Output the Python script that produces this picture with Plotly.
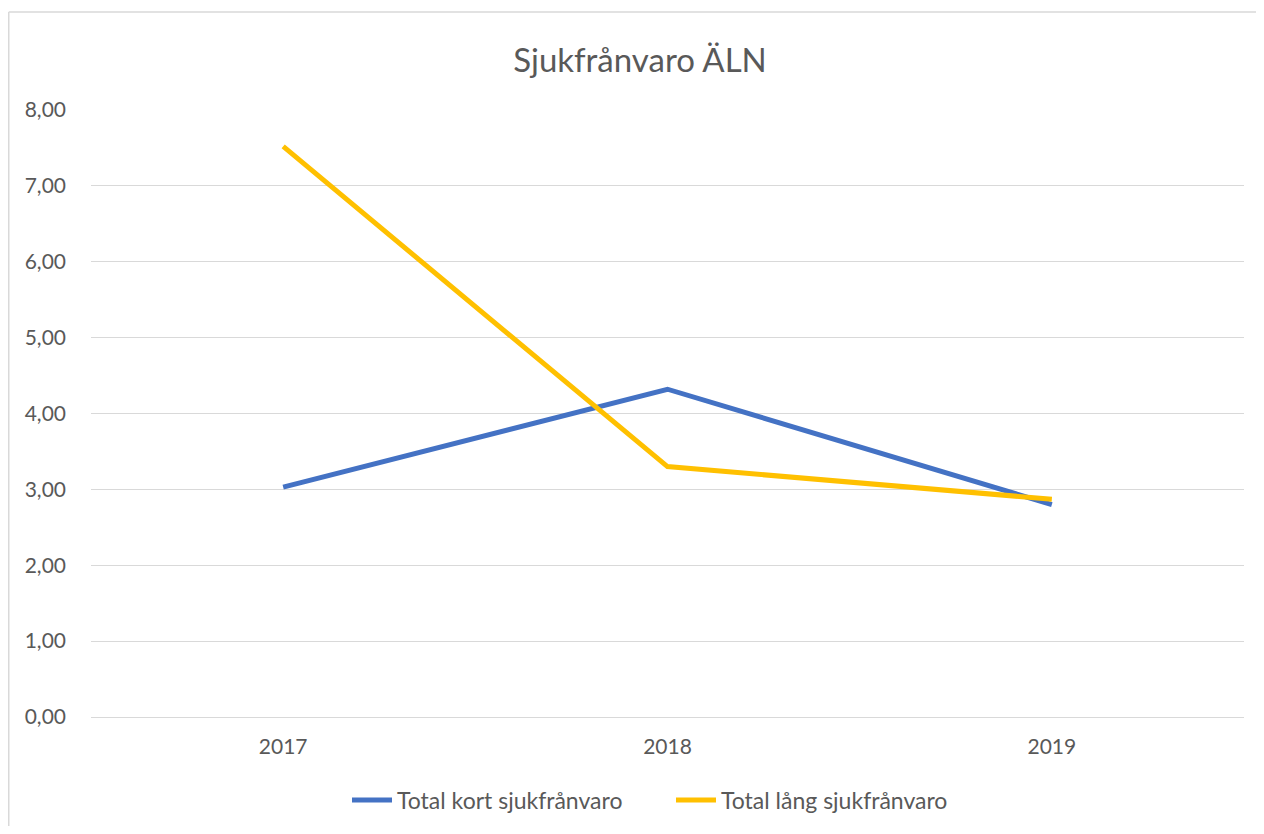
import plotly.graph_objects as go

years = ["2017", "2018", "2019"]
kort = [3.03, 4.32, 2.80]
lang = [7.52, 3.30, 2.87]
series_names = ["Total kort sjukfrånvaro", "Total lång sjukfrånvaro"]
title_text = "Sjukfrånvaro ÄLN"

# page has an 8px body margin; figure sized to fit inside the window
W, H = 1248, 818
L, R, T, B = 83, 12, 102, 109
pw = W - L - R
ph = H - T - B
OFF = 8  # body margin offset

fig = go.Figure()
fig.add_trace(go.Scatter(x=years, y=kort, mode="lines", name=series_names[0],
                         line=dict(color="#4472C4", width=5)))
fig.add_trace(go.Scatter(x=years, y=lang, mode="lines", name=series_names[1],
                         line=dict(color="#FFC000", width=5)))

font_family = "Lato, 'Open Sans', sans-serif"
title_cx, title_cy = 640 - OFF, 60 - OFF
leg_lx, leg_cy = 347 - OFF, 800 - OFF
fig.update_layout(
    width=W, height=H,
    margin=dict(l=L, r=R, t=T, b=B, autoexpand=False),
    paper_bgcolor="white", plot_bgcolor="white",
    separators=", ",
    font=dict(family=font_family, color="#595959", size=21),
    title=dict(text=title_text, x=(title_cx - L) / pw, xref="paper", xanchor="center",
               y=1 - title_cy / H, yanchor="middle",
               font=dict(size=33, color="#595959", family=font_family)),
    showlegend=True,
    legend=dict(orientation="h", x=(leg_lx - L) / pw, xanchor="left",
                y=-(leg_cy - (H - B)) / ph, yanchor="middle",
                font=dict(size=23, color="#595959"), itemwidth=40,
                entrywidth=269, entrywidthmode="pixels"),
    hovermode=False,
)
fig.update_xaxes(type="category", range=[-0.5, 2.5], showgrid=False,
                 showline=True, linecolor="#d9d9d9", linewidth=1,
                 ticks="", ticklabelstandoff=11,
                 tickfont=dict(size=21, color="#595959"))
fig.update_yaxes(range=[0, 8], dtick=1, tickformat=".2f", showgrid=True,
                 gridcolor="#d9d9d9", gridwidth=1, zeroline=False,
                 showline=False, ticks="", ticklabelstandoff=24,
                 tickfont=dict(size=21, color="#595959"))

# chart-area border (top and left edges visible in the window)
bx0 = (8 - OFF - L + 0.75) / pw
by1 = (H - B - (12 - OFF)) / ph
fig.add_shape(type="line", xref="paper", yref="paper",
              x0=bx0, x1=(W - L) / pw, y0=by1, y1=by1,
              line=dict(color="#d9d9d9", width=1.5), layer="below")
fig.add_shape(type="line", xref="paper", yref="paper",
              x0=bx0, x1=bx0, y0=-(H - (H - B)) / ph, y1=by1,
              line=dict(color="#d9d9d9", width=1.5), layer="below")

fig.write_html("out.html")
